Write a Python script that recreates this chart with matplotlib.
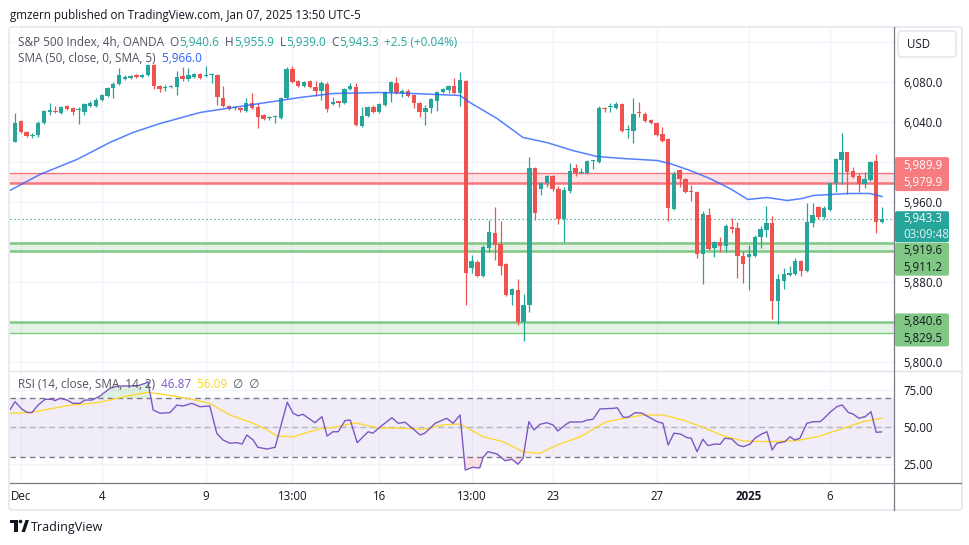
import matplotlib
matplotlib.use("Agg")
import matplotlib.pyplot as plt
import matplotlib.transforms as mtransforms
from matplotlib.patches import Rectangle, FancyBboxPatch, Circle, Polygon
from matplotlib.lines import Line2D
import numpy as np

plt.rcParams['font.family'] = ['Open Sans', 'DejaVu Sans']

# --- 4h candles, Dec 2 2024 .. Jan 7 2025 ---
opens = [
    6020, 6041, 6030, 6026, 6027, 6039, 6050, 6051, 6049, 6056,
    6054, 6052, 6050, 6056, 6056, 6062, 6066, 6074, 6078, 6083,
    6084, 6087, 6085, 6087, 6097, 6076, 6074, 6075, 6075, 6086,
    6083, 6085, 6088, 6086, 6087, 6087, 6064, 6056, 6054, 6054,
    6051, 6059, 6055, 6047, 6044, 6045, 6044, 6064, 6093, 6081,
    6076, 6081, 6075, 6071, 6078, 6058, 6061, 6059, 6073, 6075,
    6036, 6046, 6055, 6050, 6057, 6070, 6079, 6069, 6071, 6067,
    6059, 6050, 6054, 6061, 6070, 6072, 6076, 6069, 6081, 5894,
    5900, 5886, 5914, 5929, 5918, 5898, 5867, 5872, 5840, 5857,
    5994, 5973, 5979, 5986, 5973, 5943, 5971, 5994, 5989, 5989,
    6001, 6000, 6054, 6055, 6054, 6058, 6032, 6031, 6050, 6048,
    6042, 6039, 6028, 6023, 5953, 5992, 5983, 5971, 5970, 5908,
    5947, 5914, 5920, 5916, 5935, 5934, 5906, 5905, 5906, 5925,
    5932, 5939, 5861, 5881, 5887, 5888, 5901, 5891, 5939, 5955,
    5945, 5952, 5979, 6002, 6010, 5991, 5986, 5978, 5982, 6001,
    5940.6,
]
highs = [
    6049, 6042, 6031, 6029, 6041, 6052, 6059, 6056, 6056, 6057,
    6055, 6055, 6059, 6061, 6064, 6068, 6075, 6080, 6094, 6087,
    6087, 6088, 6088, 6098, 6098, 6077, 6077, 6077, 6091, 6095,
    6094, 6089, 6089, 6096, 6089, 6088, 6076, 6057, 6056, 6055,
    6064, 6069, 6059, 6048, 6046, 6047, 6065, 6095, 6096, 6082,
    6081, 6082, 6081, 6081, 6080, 6065, 6061, 6074, 6079, 6079,
    6055, 6056, 6057, 6059, 6071, 6081, 6085, 6073, 6073, 6068,
    6060, 6057, 6064, 6071, 6074, 6077, 6084, 6090, 6082, 5907,
    5902, 5917, 5942, 5955, 5941, 5899, 5874, 5883, 5868, 6005,
    5995, 5980, 5987, 5987, 5976, 5975, 5999, 5998, 5994, 6002,
    6002, 6056, 6055, 6059, 6060, 6059, 6037, 6064, 6060, 6050,
    6043, 6040, 6035, 6024, 5991, 5993, 5984, 5977, 5971, 5951,
    5954, 5921, 5925, 5938, 5944, 5940, 5911, 5917, 5927, 5936,
    5956, 5946, 5888, 5894, 5896, 5904, 5902, 5959, 5959, 5956,
    5956, 5979, 6004, 6029, 6010, 5995, 5989, 5990, 6001, 6008,
    5955.9,
]
lows = [
    6020, 6029, 6025, 6024, 6025, 6038, 6047, 6049, 6048, 6052,
    6047, 6038, 6047, 6055, 6055, 6061, 6065, 6064, 6077, 6082,
    6083, 6084, 6084, 6086, 6073, 6070, 6071, 6074, 6067, 6081,
    6081, 6084, 6083, 6085, 6079, 6057, 6055, 6052, 6052, 6050,
    6050, 6053, 6034, 6042, 6042, 6039, 6043, 6063, 6079, 6075,
    6075, 6074, 6066, 6062, 6050, 6057, 6055, 6058, 6072, 6036,
    6035, 6045, 6049, 6049, 6056, 6060, 6068, 6065, 6065, 6054,
    6045, 6037, 6049, 6051, 6069, 6069, 6068, 6056, 5857, 5889,
    5885, 5885, 5910, 5902, 5887, 5866, 5857, 5837, 5821, 5850,
    5942, 5967, 5975, 5971, 5938, 5920, 5969, 5986, 5988, 5988,
    5993, 5999, 6050, 6050, 6053, 6030, 6024, 6019, 6045, 6040,
    6038, 6026, 6020, 5941, 5952, 5975, 5969, 5961, 5904, 5878,
    5912, 5905, 5910, 5910, 5929, 5884, 5879, 5872, 5905, 5914,
    5925, 5843, 5838, 5873, 5886, 5887, 5886, 5890, 5935, 5943,
    5943, 5951, 5970, 5978, 5968, 5984, 5970, 5974, 5981, 5929,
    5939.0,
]
closes = [
    6039, 6030, 6026, 6027, 6039, 6051, 6052, 6050, 6055, 6053,
    6050, 6053, 6058, 6059, 6062, 6067, 6074, 6078, 6087, 6085,
    6086, 6085, 6087, 6097, 6076, 6073, 6075, 6076, 6085, 6083,
    6087, 6088, 6084, 6087, 6088, 6065, 6056, 6053, 6055, 6052,
    6059, 6054, 6045, 6043, 6045, 6046, 6064, 6093, 6080, 6076,
    6080, 6075, 6071, 6079, 6053, 6060, 6059, 6073, 6076, 6037,
    6046, 6055, 6050, 6058, 6070, 6080, 6069, 6071, 6066, 6059,
    6050, 6054, 6063, 6070, 6073, 6076, 6069, 6082, 5889, 5901,
    5886, 5915, 5930, 5917, 5896, 5867, 5873, 5840, 5857, 5994,
    5949, 5979, 5986, 5973, 5943, 5972, 5991, 5989, 5990, 6001,
    6002, 6054, 6053, 6056, 6058, 6031, 6033, 6048, 6049, 6041,
    6039, 6027, 6021, 5954, 5988, 5983, 5970, 5970, 5908, 5948,
    5913, 5920, 5916, 5936, 5933, 5906, 5898, 5908, 5925, 5933,
    5939, 5861, 5883, 5888, 5889, 5901, 5891, 5940, 5947, 5945,
    5954, 5979, 6003, 6010, 5990, 5985, 5978, 5983, 6000, 5940,
    5943.3,
]

# SMA(50) line, read at points along the curve (candle index, price)
sma_idx = [-0.9, 4.3, 10.7, 16.4, 20.4, 25.1, 32.0, 37.7, 42.4, 49.3, 55.0,
           63.1, 68.9, 77.0, 78.7, 83.4, 87.9, 92.0, 96.5, 100.7, 105.2, 111.1,
           113.3, 116.8, 120.2, 123.7, 126.8, 130.1, 133.6, 136.2, 138.1, 144.0,
           147.9, 150.0]
sma_val = [5972, 5988, 6003, 6020, 6030, 6039, 6050, 6055, 6059, 6065, 6069,
           6070, 6069, 6067, 6060, 6044, 6025, 6020, 6012, 6006, 6004, 6002,
           5999, 5992, 5984, 5974, 5963, 5965, 5962, 5964, 5967, 5969,
           5969, 5966]

# RSI(14) and its SMA(14)
rsi_idx = [-0.9, 0, 1.2, 2.1, 2.9, 4, 5.2, 6.4, 6.9, 7.8, 9, 10, 11.2, 12.1,
           13.3, 14.7, 16.4, 17.8, 19.6, 21.1, 22.5, 23, 23.9, 25.1, 26.8, 28,
           29.1, 30.6, 32, 33.7, 34.9, 36, 37.2, 38.4, 39.3, 40.1, 41.2, 42,
           43.6, 45, 47.1, 48.1, 49, 49.8, 51.9, 53.1, 54, 55, 55.9, 57.1, 58,
           59.2, 61.1, 61.9, 63.1, 65.2, 66.3, 67.5, 70.1, 70.9, 72.7, 74.7,
           75.8, 77, 77.9, 79.2, 80.4, 81, 81.8, 83.4, 84.8, 86, 87, 87.9, 88.9,
           89.8, 90.8, 92, 93.1, 93.9, 95.2, 96, 98.1, 99, 100, 101.2, 103.5,
           104.2, 105.2, 106.1, 107.3, 108.5, 109.5, 111.1, 112.1, 113, 114,
           115.1, 116.3, 117, 118, 119, 119.9, 121.1, 122, 122.8, 124, 125.1,
           126, 127.2, 128, 129.2, 130.1, 131, 131.8, 133.2, 134.1, 134.9,
           135.8, 137, 138.1, 139.3, 139.8, 141, 142.2, 143.1, 144.2, 145, 146,
           147.1, 148.1, 149, 149.9]
rsi_val = [61.7, 67.3, 62.2, 60.1, 59.9, 65, 68.9, 68.9, 68, 69.6, 68.4, 66.2,
           66.2, 68.4, 68.4, 71.1, 76.3, 77.9, 77.9, 77.9, 79.7, 80.8, 61.7,
           59.5, 59.9, 65, 64.4, 66.2, 63.9, 64.4, 46, 41.4, 39.2, 39.6, 38.7,
           44.8, 41.4, 36.5, 35.3, 36.5, 66.9, 59.5, 57.8, 58.8, 53.1, 57.2,
           44.1, 47, 47, 54.5, 54.9, 39.6, 47, 46, 50, 56.5, 52.7, 53.4, 44.8,
           46, 52.7, 56.1, 52.7, 58.3, 21.1, 23.0, 22.5, 29.7, 33.5, 32, 27.4,
           28.4, 25, 29.1, 53.8, 48.2, 52, 53.1, 51.6, 47.5, 51.6, 53.6, 53.6,
           54.9, 55.4, 62.4, 62.8, 63.2, 56.8, 56.8, 59.9, 59.5, 57.2, 53.8,
           52.7, 38, 46, 45.5, 43, 42.6, 33.5, 41.9, 37.6, 38.7, 38.5, 42.6,
           42.1, 38, 36.9, 38.7, 42.6, 45.5, 47, 34.7, 39.2, 40.3, 43.6, 41.4,
           42.6, 52.7, 53.8, 53.8, 55.4, 60.1, 63.9, 65.1, 59.9, 59, 56.1,
           57.2, 60.5, 46.6, 46.87]
rsi_ma_idx = [-0.9, 2.6, 9, 14.7, 19.4, 23, 26.3, 29.8, 33.7, 37.2, 41.2, 43.6,
              45.3, 48.1, 51, 53.1, 55, 58.8, 62.6, 67.1, 70.6, 74, 77, 79.2,
              81, 84.4, 87.9, 90.8, 93.8, 97.8, 102.1, 104.7, 108.7, 112.1,
              115.6, 119, 122.5, 126, 130.6, 135.3, 138.8, 143.3, 146.7, 150]
rsi_ma_val = [59.5, 59.9, 64.6, 66.9, 71.1, 73.6, 71.8, 69.6, 66.2, 58.3, 52.7,
              48.2, 44.1, 43.6, 47, 49.3, 49.7, 53.1, 49.7, 49.3, 48.6, 51.6,
              52.2, 47.5, 43.6, 40.3, 33.5, 32.4, 38, 43.6, 53.4, 55.6, 58.3,
              58.3, 54.9, 50, 44.3, 40.7, 40.3, 41, 43.6, 49.3, 53.8, 56.09]

# supply / demand zones (top, bottom)
red_zone = (5989.9, 5979.9)
green_zone_hi = (5919.6, 5911.2)
green_zone_lo = (5840.6, 5829.5)
last_price = 5943.3
countdown = "03:09:48"

price_ticks = [5800, 5840, 5880, 5920, 5960, 6000, 6040, 6080, 6120]
price_shown = [5800, 5880, 5960, 6040, 6080]
time_pos = [1, 15, 33, 48, 63, 79, 93, 111, 127, 141]
time_labels = ["Dec", "4", "9", "13:00", "16", "13:00", "23", "27", "2025", "6"]

UP, DOWN = "#26a69a", "#ef5350"
TXT, GRAY, GRID = "#131722", "#50535e", "#f0f3fa"

W, H = 970, 545
fig = plt.figure(figsize=(W / 100, H / 100), dpi=100)
ID = mtransforms.IdentityTransform()


def fbox(x0, y0, x1, y1):
    return [x0 / W, 1 - y1 / H, (x1 - x0) / W, (y1 - y0) / H]


ax = fig.add_axes(fbox(10, 28, 894, 370))
rax = fig.add_axes(fbox(10, 372, 894, 483), sharex=ax)

# --- candles ---
o, hi, lo, c = map(np.array, (opens, highs, lows, closes))
idx = np.arange(len(o))
cols = np.where(c >= o, UP, DOWN)
ax.vlines(idx, lo, hi, colors=cols, lw=0.9, zorder=3)
ax.bar(idx, np.maximum(np.abs(c - o), 0.9), bottom=np.minimum(o, c), width=0.76,
       color=cols, linewidth=0, zorder=4)
ax.plot(sma_idx, sma_val, color="#2962ff", lw=1.1, alpha=0.8, zorder=5)

# zones
ax.axhspan(red_zone[1], red_zone[0], color="#f7525f", alpha=0.16, lw=0, zorder=1)
ax.axhline(red_zone[0], color="#f7767e", lw=1.0, zorder=2)
ax.axhline(red_zone[1], color="#f7767e", lw=1.8, zorder=2)
for top, bot, wt, wb in [(*green_zone_hi, 1.8, 1.8), (*green_zone_lo, 1.8, 1.0)]:
    ax.axhspan(bot, top, color="#4caf50", alpha=0.14, lw=0, zorder=1)
    ax.axhline(top, color="#81c784", lw=wt, zorder=2)
    ax.axhline(bot, color="#81c784", lw=wb, zorder=2)
ax.axhline(last_price, color=UP, lw=0.9, ls=(0, (1, 2.2)), zorder=2)

ax.set_xlim(-0.87, 152.08)
ax.set_ylim(5792.5, 6134.5)
ax.set_yticks(price_ticks)
ax.set_yticklabels([f"{p:,.1f}" if p in price_shown else "" for p in price_ticks])
ax.yaxis.tick_right()
ax.tick_params(axis="y", length=0, pad=6.5, labelsize=8.3, labelcolor=TXT)
ax.tick_params(axis="x", length=0, labelbottom=False)
ax.grid(True, color=GRID, lw=1)
ax.set_axisbelow(True)
for sp in ax.spines.values():
    sp.set_visible(False)

# --- RSI pane ---
rv = np.array(rsi_val)
ri = np.array(rsi_idx)
rax.axhspan(30, 70, color="#7e57c2", alpha=0.1, lw=0)
rax.axhline(70, color="#787b86", lw=1, ls=(0, (4, 3)))
rax.axhline(50, color="#b2b5be", lw=1, ls=(0, (4, 3)))
rax.axhline(30, color="#787b86", lw=1, ls=(0, (4, 3)))
rax.fill_between(ri, rv, 70, where=rv > 70, interpolate=True, color="#4caf50", alpha=0.18, lw=0)
rax.fill_between(ri, rv, 30, where=rv < 30, interpolate=True, color="#f23645", alpha=0.14, lw=0)
rax.plot(rsi_ma_idx, rsi_ma_val, color="#fdd835", lw=1.0)
rax.plot(ri, rv, color="#7e57c2", lw=1.0)
rax.set_ylim(12.36, 87.36)
rax.set_yticks([25, 50, 75])
rax.set_yticklabels(["25.00", "50.00", "75.00"])
rax.yaxis.tick_right()
rax.tick_params(axis="y", length=0, pad=6.5, labelsize=8.3, labelcolor=TXT)
rax.set_xticks(time_pos)
rax.set_xticklabels(time_labels)
rax.tick_params(axis="x", length=0, pad=5, labelsize=8.3, labelcolor=TXT)
for lab in rax.get_xticklabels():
    if lab.get_text() == "2025":
        lab.set_fontweight("bold")
rax.grid(True, color=GRID, lw=1)
rax.set_axisbelow(True)
for sp in rax.spines.values():
    sp.set_visible(False)


# --- frame, separators ---
def hline(y, x0, x1, color, lw=1.0):
    fig.add_artist(Line2D([x0, x1], [H - y, H - y], color=color, lw=lw, transform=ID))


def vline(x, y0, y1, color, lw=1.0):
    fig.add_artist(Line2D([x, x], [H - y0, H - y1], color=color, lw=lw, transform=ID))


fig.add_artist(FancyBboxPatch((9, H - 510), 953, 483, boxstyle="round,pad=0,rounding_size=3",
                              fc="none", ec="#e0e3eb", lw=1, transform=ID))
hline(371, 10, 961, "#e0e3eb")
hline(483, 10, 961, "#787b86", 0.9)
vline(894, 27, 510, "#787b86", 0.9)

fig.add_artist(FancyBboxPatch((898, H - 57), 58, 26, boxstyle="round,pad=0,rounding_size=4",
                              fc="white", ec="#e0e3eb", lw=1, transform=ID))
fig.text(907, H - 44, "USD", fontsize=8.3, color=TXT, va="center", transform=ID)


def ypix(price):
    return H - ax.transData.transform((0, price))[1]


def price_box(top, rows, row_h, fc, tc):
    n = len(rows)
    fig.add_artist(FancyBboxPatch((895, H - top - n * row_h), 54, n * row_h,
                                  boxstyle="round,pad=0,rounding_size=2",
                                  fc=fc, ec="none", transform=ID, zorder=10))
    for k, (s, alpha) in enumerate(rows):
        fig.text(903, H - top - (k + 0.5) * row_h, s, fontsize=8.3, color=tc, alpha=alpha,
                 va="center", ha="left", transform=ID, zorder=11)
    return top + n * row_h


price_box(ypix(red_zone[1]) - 1.5 * 17, [(f"{red_zone[0]:,.1f}", 1), (f"{red_zone[1]:,.1f}", 1)],
          17, "#f77c80", "white")
teal_bottom = price_box(ypix(last_price) - 8, [(f"{last_price:,.1f}", 1), (countdown, 0.85)],
                        15.5, UP, "white")
price_box(teal_bottom + 0.5, [(f"{green_zone_hi[0]:,.1f}", 1), (f"{green_zone_hi[1]:,.1f}", 1)],
          16.5, "#81c784", TXT)
price_box(ypix(green_zone_lo[0]) - 8.5, [(f"{green_zone_lo[0]:,.1f}", 1), (f"{green_zone_lo[1]:,.1f}", 1)],
          16.5, "#81c784", TXT)


# --- legends ---
def chain(x, y, parts, size=8.3):
    r = fig.canvas.get_renderer()
    for s, col in parts:
        t = fig.text(x, H - y, s, color=col, fontsize=size, va="center", ha="left", transform=ID)
        x = t.get_window_extent(r).x1


fig.text(10, H - 15, "gmzern published on TradingView.com, Jan 07, 2025 13:50 UTC-5",
         fontsize=8.4, color=TXT, va="center", transform=ID)

chain(18, 42, [("S&P 500 Index, 4h, OANDA", GRAY),
               ("  O", GRAY), (f"{opens[-1]:,.1f}", UP),
               ("  H", GRAY), (f"{highs[-1]:,.1f}", UP),
               ("  L", GRAY), (f"{lows[-1]:,.1f}", UP),
               ("  C", GRAY), (f"{closes[-1]:,.1f}", UP),
               ("  +2.5 (+0.04%)", UP)], size=8.5)
chain(18, 59, [("SMA (50, close, 0, SMA, 5)", GRAY), ("  " + f"{sma_val[-1]:,.1f}", "#2962ff")], size=8.5)
chain(18, 385, [("RSI (14, close, SMA, 14, 2)", GRAY), (f"  {rsi_val[-1]:.2f}", "#7e57c2"),
                (f"  {rsi_ma_val[-1]:.2f}", "#f9d71c"), ("  \u2205  \u2205", GRAY)], size=8.5)

# TradingView logo
fig.add_artist(Rectangle((10, H - 523), 8, 3, fc=TXT, ec="none", transform=ID))
fig.add_artist(Rectangle((14, H - 532), 4, 12, fc=TXT, ec="none", transform=ID))
fig.add_artist(Circle((20.5, H - 521.5), 1.8, fc=TXT, ec="none", transform=ID))
fig.add_artist(Polygon([(21.5, H - 532), (25.5, H - 520), (29, H - 520), (25, H - 532)],
                       closed=True, fc=TXT, ec="none", transform=ID))
fig.text(31, H - 527, "TradingView", fontsize=9, color=TXT, va="center", transform=ID)

fig.savefig("out.png", dpi=100)
